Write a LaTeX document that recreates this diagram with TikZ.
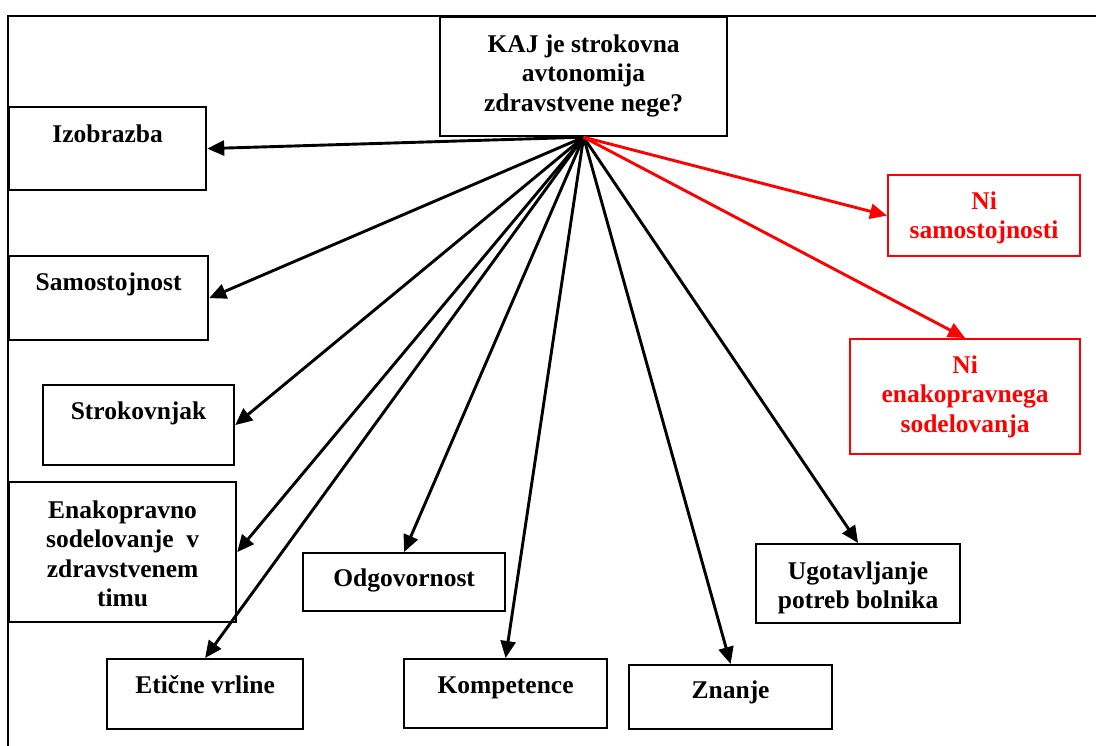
\documentclass[tikz,border=0pt]{standalone}
\usepackage{fontspec}
\setmainfont{Liberation Serif}
\usetikzlibrary{arrows.meta}
\definecolor{alert}{RGB}{255,0,0}
\tikzset{
  box/.style={draw, line width=2.2pt, rectangle, inner sep=0pt, anchor=north west, fill=white},
  redbox/.style={box, draw=alert},
  % multi-line labels sit on the baseline of their last line
  lbl/.style={anchor=base, inner sep=0pt, align=center,
    font=\fontsize{25.5}{29.5}\selectfont\bfseries},
  redlbl/.style={lbl, text=alert},
  link/.style={line width=2.9pt, -{Triangle[length=17pt,width=15pt]}},
  redlink/.style={link, draw=alert, fill=alert},
}
\begin{document}
\begin{tikzpicture}[x=1pt,y=-1pt]
\useasboundingbox (0,0) rectangle (1096,745);
% page frame (open to the right and bottom)
\draw[line width=2.2pt] (8,760) -- (8,16) -- (1110,16);

% question box
\node[box, minimum width=287pt, minimum height=119pt] (top) at (439,16) {};
\node[lbl] (topT) at ([yshift=-95pt]top.north) {KAJ je strokovna\\avtonomija\\zdravstvene nege?};

% left column
\node[box, minimum width=197pt, minimum height=83pt] (izo) at (8,106) {};
\node[lbl] (izoT) at ([yshift=-36pt]izo.north) {Izobrazba};

\node[box, minimum width=199pt, minimum height=84pt] (sam) at (8,255) {};
\node[lbl] (samT) at ([yshift=-35pt]sam.north) {Samostojnost};

\node[box, minimum width=191pt, minimum height=80pt] (stro) at (42,384) {};
\node[lbl] (stroT) at ([yshift=-35pt]stro.north) {Strokovnjak};

\node[box, minimum width=227pt, minimum height=140pt] (enak) at (8,481) {};
\node[lbl] (enakT) at ([yshift=-125.5pt]enak.north) {Enakopravno\\sodelovanje\ \ v\\zdravstvenem\\timu};

% bottom row
\node[box, minimum width=196pt, minimum height=70pt] (eti) at (106,658) {};
\node[lbl] (etiT) at ([yshift=-35pt]eti.north) {Etične vrline};

\node[box, minimum width=202pt, minimum height=58pt] (odg) at (302,552) {};
\node[lbl] (odgT) at ([yshift=-34pt]odg.north) {Odgovornost};

\node[box, minimum width=203pt, minimum height=69pt] (komp) at (403,658) {};
\node[lbl] (kompT) at ([yshift=-35pt]komp.north) {Kompetence};

\node[box, minimum width=203pt, minimum height=64pt] (zna) at (628,664) {};
\node[lbl] (znaT) at ([yshift=-34pt]zna.north) {Znanje};

\node[box, minimum width=204pt, minimum height=79pt] (ugo) at (755,543) {};
\node[lbl] (ugoT) at ([yshift=-65.5pt]ugo.north) {Ugotavljanje\\potreb bolnika};

% negative outcomes
\node[redbox, minimum width=192pt, minimum height=81pt] (nisam) at (887,174) {};
\node[redlbl] (nisamT) at ([yshift=-64.5pt]nisam.north) {Ni\\samostojnosti};

\node[redbox, minimum width=230pt, minimum height=115pt] (nienak) at (849,338) {};
\node[redlbl] (nienakT) at ([yshift=-94pt]nienak.north) {Ni\\enakopravnega\\sodelovanja};

% connectors from the question
\draw[link] (top.south) -- (izo.east);
\draw[link] (top.south) -- (sam.east);
\draw[link] (top.south) -- (stro.east);
\draw[link] (top.south) -- (enak.east);
\draw[link] (top.south) -- (eti.north);
\draw[link] (top.south) -- (odg.north);
\draw[link] (top.south) -- (komp.north);
\draw[link] (top.south) -- (zna.north);
\draw[link] (top.south) -- (ugo.north);
\draw[redlink] (top.south) -- (nisam.west);
\draw[redlink] (top.south) -- (nienak.north);
\end{tikzpicture}
\end{document}
